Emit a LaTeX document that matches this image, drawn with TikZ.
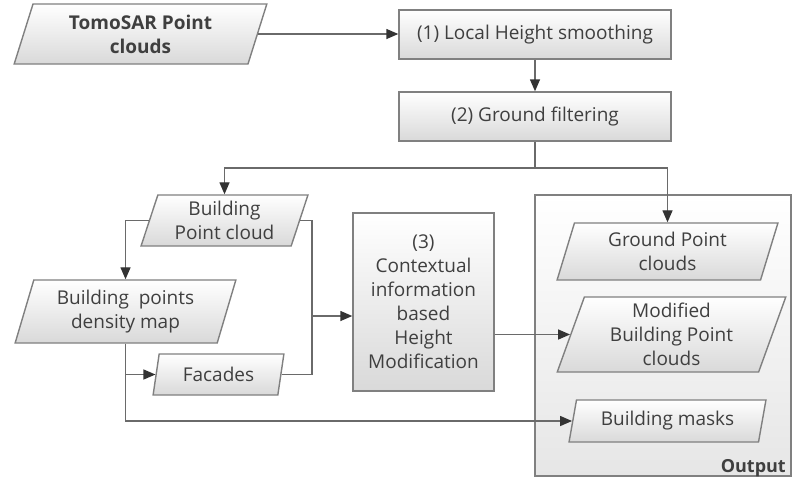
\documentclass[tikz,border=0pt]{standalone}
\usepackage{fontspec}
\setmainfont{Open Sans}
\usetikzlibrary{shapes.geometric,arrows.meta}
\definecolor{txt}{HTML}{3F3F3F}
\definecolor{bord}{HTML}{808080}
\definecolor{linec}{HTML}{6A6A6A}
\definecolor{tipc}{HTML}{333333}
\definecolor{shade}{HTML}{D9D9D9}
\definecolor{outshade}{HTML}{E6E6E6}
\begin{document}
\begin{tikzpicture}[x=1pt,y=-1pt,
  font=\fontsize{19}{24}\selectfont,
  base/.style={draw=bord, line width=1.4pt, top color=white, bottom color=shade,
    text=txt, align=center, inner sep=0pt},
  procbox/.style={base, rectangle},
  para/.style={base, trapezium, trapezium stretches=true},
  outbox/.style={draw=bord, line width=1.4pt, top color=white, bottom color=outshade, rectangle, inner sep=0pt},
  wire/.style={draw=linec, line width=1.4pt},
  conn/.style={wire, -{Triangle[length=12pt,width=10pt,fill=tipc,color=tipc]}}
]
\useasboundingbox (0,0) rectangle (792,480);

% output container
\node[outbox, minimum width=256pt, minimum height=281pt] (out) at (663,335.5) {};
\node[anchor=base east, font=\fontsize{18}{22}\selectfont\bfseries, text=txt, inner sep=0pt] (outlbl) at (786,472) {Output};

% processing boxes
\node[procbox, minimum width=272pt, minimum height=49pt] (b1) at (535,34.5) {(1) Local Height smoothing};
\node[procbox, minimum width=272pt, minimum height=49pt] (b2) at (535,116.5) {(2) Ground filtering};
\node[procbox, minimum width=141pt, minimum height=178pt] (b3) at (423.5,302) {(3)\\Contextual\\information\\based\\Height\\Modification};

% data parallelograms
\node[para, trapezium left angle=72, trapezium right angle=108, minimum width=253pt, minimum height=60pt, font=\fontsize{19}{24}\selectfont\bfseries] (tomo) at (140.5,34) {TomoSAR Point\\clouds};
\node[para, trapezium left angle=72, trapezium right angle=108, minimum width=167pt, minimum height=51pt] (bpc) at (224.5,220.5) {Building\\Point cloud};
\node[para, trapezium left angle=72, trapezium right angle=108, minimum width=221pt, minimum height=63pt] (dens) at (125.5,311.5) {Building\ \ points\\density map};
\node[para, trapezium left angle=76, trapezium right angle=104, minimum width=131pt, minimum height=41pt] (fac) at (218.5,374.5) {Facades};
\node[para, trapezium left angle=74, trapezium right angle=106, minimum width=221pt, minimum height=57pt] (ground) at (667.5,251.5) {Ground Point\\clouds};
\node[para, trapezium left angle=73, trapezium right angle=107, minimum width=229pt, minimum height=75pt] (mod) at (671.5,334.5) {Modified\\Building Point\\clouds};
\node[para, trapezium left angle=74, trapezium right angle=106, minimum width=197pt, minimum height=42pt] (mask) at (667.5,421) {Building masks};

% helper coordinates
\coordinate (split) at (535,168);
\coordinate (rj) at (312,316);

% connectors
\draw[conn] (tomo.east) -- (tomo.east -| b1.west);
\draw[conn] (b1.south) -- (b2.north);
\draw[wire] (b2.south) -- (b2.south |- split);
\draw[conn] (b2.south |- split) -| (bpc.north);
\draw[conn] (b2.south |- split) -| (ground.north);
\draw[conn] (bpc.west) -| (dens.north);
\draw[conn] (dens.south) |- (fac.west);
\draw[conn] (dens.south) |- (mask.west);
\draw[wire] (bpc.east) -| (rj);
\draw[wire] (fac.east) -| (rj);
\draw[conn] (rj) -- (rj -| b3.west);
\draw[conn] (mod.west -| b3.east) -- (mod.west);
\end{tikzpicture}
\end{document}
